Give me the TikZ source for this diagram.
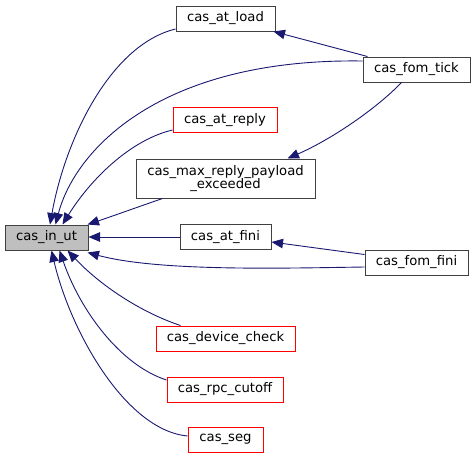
\documentclass[tikz,border=0pt]{standalone}
\usepackage{fontspec}
\setmainfont{DejaVu Sans}
\usetikzlibrary{arrows.meta,calc}
\definecolor{edgeblue}{HTML}{191970}
\definecolor{boxgray}{HTML}{BFBFBF}
\definecolor{boxline}{HTML}{404040}
\definecolor{boxred}{HTML}{FF0000}
\begin{document}
\begin{tikzpicture}[x=1pt,y=-1pt,
  fbox/.style={draw=boxline,line width=1pt,fill=white,inner sep=0pt,minimum height=25pt,align=center,
    font=\fontsize{13.2}{13.5}\selectfont},
  rbox/.style={draw=boxred,line width=1pt,fill=white,inner sep=0pt,minimum height=25pt,align=center,
    font=\fontsize{13.2}{13.5}\selectfont},
  edge/.style={draw=edgeblue,line width=0.9pt,-{Triangle[length=11.5pt,width=9.5pt]}}]
\useasboundingbox (0,0) rectangle (476,459);
\node[fbox,fill=boxgray,minimum width=83pt] (inut) at (46.5,237.5) {cas\_in\_ut};
\node[fbox,minimum width=99pt] (atload) at (225.5,18.5) {cas\_at\_load};
\node[fbox,minimum width=107pt] (fomtick) at (416.5,69.5) {cas\_fom\_tick};
\node[rbox,minimum width=104pt] (atreply) at (225,120) {cas\_at\_reply};
\node[fbox,minimum width=179pt,minimum height=39pt] (maxrp) at (225.5,178.5) {cas\_max\_reply\_payload\\\_exceeded};
\node[fbox,minimum width=91pt] (atfini) at (225.5,237) {cas\_at\_fini};
\node[fbox,minimum width=103pt] (fomfini) at (416.5,262.5) {cas\_fom\_fini};
\node[rbox,minimum width=139pt] (devcheck) at (225.5,338.5) {cas\_device\_check};
\node[rbox,minimum width=116pt] (rpccut) at (225,389.5) {cas\_rpc\_cutoff};
\node[rbox,minimum width=75pt] (seg) at (225.5,439.5) {cas\_seg};

\draw[edge] ($(atload.west)+(0,10.5)$) .. controls (110,45) and (65,140) .. ($(inut.north)+(3.5,0)$);
\draw[edge] ($(fomtick.west)+(0,-8.5)$) .. controls (160,58) and (75,150) .. ($(inut.north)+(9,0)$);
\draw[edge] ($(atreply.west)+(0,10)$) .. controls (130,140) and (90,180) .. ($(inut.north)+(16,0)$);
\draw[edge] ($(maxrp.south west)+(27,0)$) .. controls (135,208) and (110,217) .. ($(inut.north east)+(-1,0)$);
\draw[edge] (atfini.west) -- ($(inut.east)+(0,-0.5)$);
\draw[edge] ($(fomfini.west)+(0,4.5)$) .. controls (290,268) and (160,272) .. ($(inut.south east)+(-1,2)$);
\draw[edge] ($(devcheck.north west)+(25,0)$) .. controls (140,312) and (100,285) .. ($(inut.south)+(21,0)$);
\draw[edge] ($(rpccut.west)+(0,-9.5)$) .. controls (120,365) and (80,310) .. ($(inut.south)+(13,0)$);
\draw[edge] ($(seg.west)+(0,-3.5)$) .. controls (125,430) and (70,330) .. ($(inut.south)+(5,0)$);
\draw[edge] ($(fomtick.north west)+(5,0)$) -- ($(atload.south east)+(-2,0)$);
\draw[edge] ($(fomtick.south west)+(39,0)$) .. controls (375,110) and (330,140) .. ($(maxrp.north east)+(-28,0)$);
\draw[edge] ($(fomfini.north west)+(0,5)$) -- ($(atfini.east)+(0,5)$);
\end{tikzpicture}
\end{document}
